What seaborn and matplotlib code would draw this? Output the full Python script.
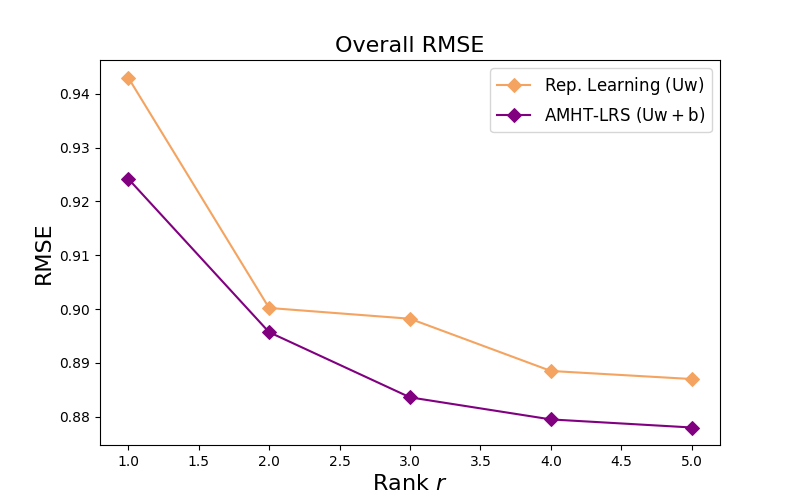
import matplotlib
matplotlib.use("Agg")
import matplotlib.pyplot as plt
import seaborn as sns
import pandas as pd

ranks = [1.0, 2.0, 3.0, 4.0, 5.0]
rep_learning = [0.9430, 0.9002, 0.8982, 0.8885, 0.8870]
amht_lrs = [0.9242, 0.8957, 0.8836, 0.8795, 0.8780]
series_names = [r"Rep. Learning $(\mathrm{Uw})$", r"AMHT-LRS $(\mathrm{Uw} + \mathrm{b})$"]
colors = ["#F4A460", "#800080"]

fig, ax = plt.subplots(figsize=(8, 5), dpi=100)
for vals, name, c in zip([rep_learning, amht_lrs], series_names, colors):
    df = pd.DataFrame({"rank": ranks, "rmse": vals})
    sns.lineplot(data=df, x="rank", y="rmse", ax=ax, color=c, marker="D",
                 markersize=7, markeredgecolor=c, label=name, linewidth=1.5)

ax.set_title("Overall RMSE", fontsize=16)
ax.set_xlabel(r"Rank $r$", fontsize=16)
ax.set_ylabel("RMSE", fontsize=16)
ax.legend(fontsize=12, loc="upper right")
fig.savefig("out.png", dpi=100)
